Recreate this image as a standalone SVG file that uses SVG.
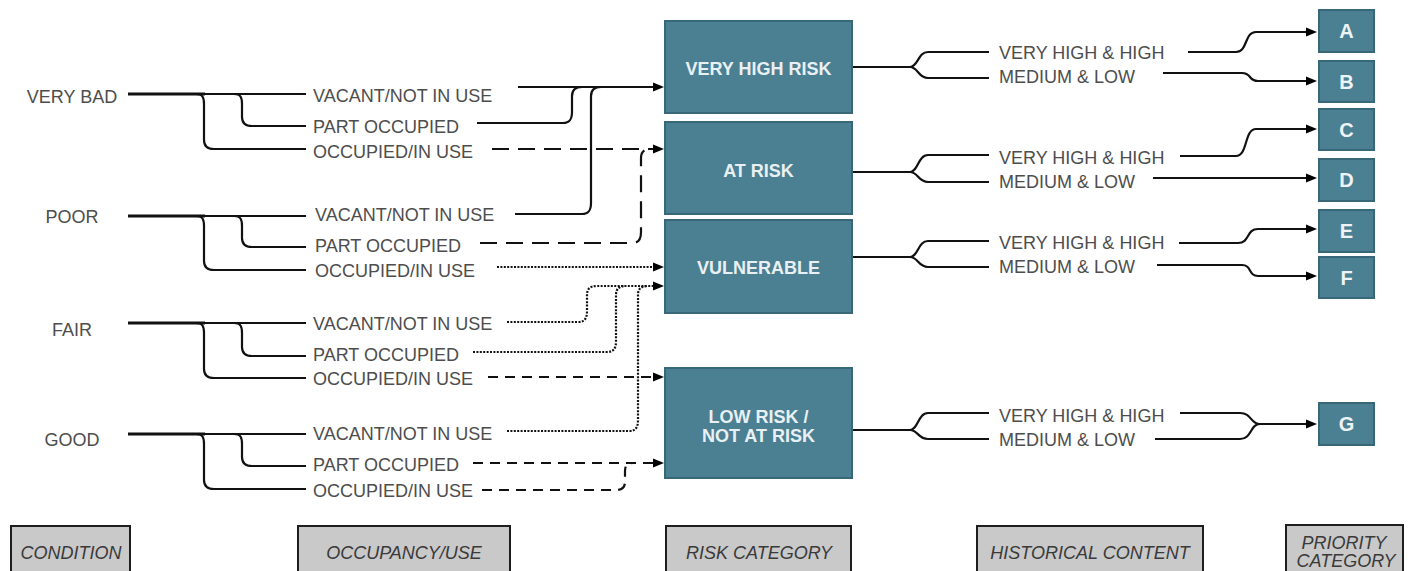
<svg xmlns="http://www.w3.org/2000/svg" width="1411" height="571" viewBox="0 0 1411 571">
<style>
.lbl{font-family:"Liberation Sans",Arial,sans-serif;font-size:18px;fill:#4d4d4d}
.cond{text-anchor:middle}
.risk rect{fill:#4b7f92;stroke:#39677a;stroke-width:2}
.risk text{font-family:"Liberation Sans",Arial,sans-serif;font-size:18px;font-weight:bold;fill:#e9f0f3;text-anchor:middle}
.pri rect{fill:#4b7f92;stroke:#39677a;stroke-width:2}
.pri text{font-family:"Liberation Sans",Arial,sans-serif;font-size:20px;font-weight:bold;fill:#eef3f5;text-anchor:middle}
.hdr rect{fill:#c9c9c9;stroke:#1e1e1e;stroke-width:2}
.hdr text{font-family:"Liberation Sans",Arial,sans-serif;font-size:18px;font-style:italic;fill:#3a3a3a;text-anchor:middle}
.ln{fill:none;stroke:#111;stroke-width:2.2}
.trunk{fill:none;stroke:#111;stroke-width:3.2}
.dl{stroke-dasharray:17 9}
.ds{stroke-dasharray:10 7}
.dt{stroke-dasharray:2 1.4}
.arr{marker-end:url(#ah)}
</style>
<defs>
<marker id="ah" markerUnits="userSpaceOnUse" markerWidth="12" markerHeight="10" refX="6" refY="5" orient="auto">
<path d="M0,0.5 L11,5 L0,9.5 z" fill="#000"/>
</marker>
</defs>
<rect width="1411" height="571" fill="#fff"/>

<g id="connectors">
<path class="ln" d="M128 94 H306"/><path class="trunk" d="M128 94 H205"/>
<path class="ln" d="M196 94 C203 94 204 98 204 104 V140 C204 146 207 149 214 149 H306"/>
<path class="ln" d="M234 94 C241 94 242 98 242 104 V117 C242 123 245 126 252 126 H306"/>

<path class="ln" d="M128 216 H306"/><path class="trunk" d="M128 216 H205"/>
<path class="ln" d="M196 216 C203 216 204 220 204 226 V261 C204 267 207 270 214 270 H306"/>
<path class="ln" d="M234 216 C241 216 242 220 242 226 V238 C242 244 245 247 252 247 H306"/>

<path class="ln" d="M128 323 H306"/><path class="trunk" d="M128 323 H205"/>
<path class="ln" d="M196 323 C203 323 204 327 204 333 V369 C204 375 207 378 214 378 H306"/>
<path class="ln" d="M234 323 C241 323 242 327 242 333 V347 C242 353 245 356 252 356 H306"/>

<path class="ln" d="M128 434 H306"/><path class="trunk" d="M128 434 H205"/>
<path class="ln" d="M196 434 C203 434 204 438 204 444 V480 C204 486 207 489 214 489 H306"/>
<path class="ln" d="M234 434 C241 434 242 438 242 444 V457 C242 463 245 466 252 466 H306"/>

<path class="ln arr" d="M518 87 H659"/>
<path class="ln" d="M477 123 H563 C570 123 572 119 572 112 V96 C572 90 575 87 582 87"/>
<path class="ln" d="M515 214 H582 C589 214 591 210 591 203 V96 C591 90 594 87 601 87"/>

<path class="ln dl arr" d="M492 149 H659"/>
<path class="ln dl" d="M480 243 H632 C639 243 641 239 641 232 V158 C641 152 644 149 651 149"/>

<path class="ln dt arr" d="M497 267 H659"/>
<path class="ln dt arr" d="M507 322 H578 C585 322 587 318 587 311 V295 C587 289 590 286 597 286 H659"/>
<path class="ln dt" d="M473 352 H607 C614 352 616 348 616 341 V295 C616 289 619 286 626 286"/>
<path class="ln dt" d="M507 431 H629 C636 431 638 427 638 420 V295 C638 289 641 286 648 286"/>

<path class="ln ds arr" d="M488 377 H659"/>
<path class="ln ds arr" d="M473 463 H659"/>
<path class="ln ds" d="M482 490 H616 C622 490 625 487 625 482 V471 C625 466 627 463 633 463"/>

<path class="ln" d="M852 67 H912"/>
<path class="ln" d="M910 67 C918 67 918 52 928 52 H989"/>
<path class="ln" d="M910 67 C918 67 918 78 928 78 H989"/>
<path class="ln" d="M852 172 H912"/>
<path class="ln" d="M910 172 C918 172 918 155 928 155 H989"/>
<path class="ln" d="M910 172 C918 172 918 182 928 182 H989"/>
<path class="ln" d="M852 257 H912"/>
<path class="ln" d="M910 257 C918 257 918 241 928 241 H989"/>
<path class="ln" d="M910 257 C918 257 918 267 928 267 H989"/>
<path class="ln" d="M852 430 H912"/>
<path class="ln" d="M910 430 C918 430 918 413 928 413 H989"/>
<path class="ln" d="M910 430 C918 430 918 439 928 439 H989"/>

<path class="ln arr" d="M1188 52 H1236 C1248 52 1244 32 1256 32 H1312"/>
<path class="ln arr" d="M1163 73 H1242 C1252 73 1248 81 1258 81 H1312"/>
<path class="ln arr" d="M1180 156 H1236 C1248 156 1244 129 1256 129 H1312"/>
<path class="ln arr" d="M1153 178 H1312"/>
<path class="ln arr" d="M1179 243 H1238 C1250 243 1246 229 1258 229 H1312"/>
<path class="ln arr" d="M1157 265 H1242 C1252 265 1248 276 1258 276 H1312"/>
<path class="ln" d="M1180 413 H1240 C1252 413 1250 424 1260 424"/>
<path class="ln" d="M1155 439 H1240 C1252 439 1250 424 1260 424"/>
<path class="ln arr" d="M1258 424 H1312"/>
</g>

<g id="conditions">
<text class="lbl cond" x="72" y="102.5">VERY BAD</text>
<text class="lbl cond" x="72" y="222.5">POOR</text>
<text class="lbl cond" x="72" y="335.5">FAIR</text>
<text class="lbl cond" x="72" y="445.5">GOOD</text>
</g>

<g id="occupancy">
<text class="lbl" x="313" y="101.5">VACANT/NOT IN USE</text>
<text class="lbl" x="313" y="132.5">PART OCCUPIED</text>
<text class="lbl" x="313" y="157.5">OCCUPIED/IN USE</text>
<text class="lbl" x="315" y="220.5">VACANT/NOT IN USE</text>
<text class="lbl" x="315" y="251.5">PART OCCUPIED</text>
<text class="lbl" x="315" y="276.5">OCCUPIED/IN USE</text>
<text class="lbl" x="313" y="329.5">VACANT/NOT IN USE</text>
<text class="lbl" x="313" y="360.5">PART OCCUPIED</text>
<text class="lbl" x="313" y="384.5">OCCUPIED/IN USE</text>
<text class="lbl" x="313" y="439.5">VACANT/NOT IN USE</text>
<text class="lbl" x="313" y="470.5">PART OCCUPIED</text>
<text class="lbl" x="313" y="496.5">OCCUPIED/IN USE</text>
</g>

<g id="risk-very-high" class="risk">
<rect x="665" y="21" width="187" height="92"/>
<text x="758.5" y="74.5">VERY HIGH RISK</text>
</g>
<g id="risk-at-risk" class="risk">
<rect x="665" y="122" width="187" height="92"/>
<text x="758.5" y="177">AT RISK</text>
</g>
<g id="risk-vulnerable" class="risk">
<rect x="665" y="220" width="187" height="93"/>
<text x="758.5" y="273.5">VULNERABLE</text>
</g>
<g id="risk-low" class="risk">
<rect x="665" y="368" width="187" height="110"/>
<text x="758.5" y="422.5">LOW RISK /</text>
<text x="758.5" y="441.5">NOT AT RISK</text>
</g>

<g id="historical">
<text class="lbl" x="999" y="58.5">VERY HIGH &amp; HIGH</text>
<text class="lbl" x="999" y="82.5">MEDIUM &amp; LOW</text>
<text class="lbl" x="999" y="163.5">VERY HIGH &amp; HIGH</text>
<text class="lbl" x="999" y="187.5">MEDIUM &amp; LOW</text>
<text class="lbl" x="999" y="248.5">VERY HIGH &amp; HIGH</text>
<text class="lbl" x="999" y="272.5">MEDIUM &amp; LOW</text>
<text class="lbl" x="999" y="421.5">VERY HIGH &amp; HIGH</text>
<text class="lbl" x="999" y="445.5">MEDIUM &amp; LOW</text>
</g>

<g id="priority-A" class="pri"><rect x="1319" y="10" width="55" height="42"/><text x="1346.5" y="38">A</text></g>
<g id="priority-B" class="pri"><rect x="1319" y="61" width="55" height="41"/><text x="1346.5" y="88.5">B</text></g>
<g id="priority-C" class="pri"><rect x="1319" y="109" width="55" height="41"/><text x="1346.5" y="136.5">C</text></g>
<g id="priority-D" class="pri"><rect x="1319" y="159" width="55" height="42"/><text x="1346.5" y="187">D</text></g>
<g id="priority-E" class="pri"><rect x="1319" y="210" width="55" height="42"/><text x="1346.5" y="238">E</text></g>
<g id="priority-F" class="pri"><rect x="1319" y="257" width="55" height="41"/><text x="1346.5" y="284.5">F</text></g>
<g id="priority-G" class="pri"><rect x="1319" y="403" width="55" height="42"/><text x="1346.5" y="431">G</text></g>

<g id="hdr-condition" class="hdr"><rect x="11" y="526" width="119" height="60"/><text x="71" y="558.5">CONDITION</text></g>
<g id="hdr-occupancy" class="hdr"><rect x="298" y="526" width="212" height="60"/><text x="404" y="558.5">OCCUPANCY/USE</text></g>
<g id="hdr-risk" class="hdr"><rect x="666" y="526" width="185" height="60"/><text x="759" y="558.5">RISK CATEGORY</text></g>
<g id="hdr-historical" class="hdr"><rect x="977" y="526" width="226" height="60"/><text x="1090" y="558.5">HISTORICAL CONTENT</text></g>
<g id="hdr-priority" class="hdr"><rect x="1286" y="525" width="117" height="60"/><text x="1344" y="548.5">PRIORITY</text><text x="1346" y="567">CATEGORY</text></g>
</svg>
